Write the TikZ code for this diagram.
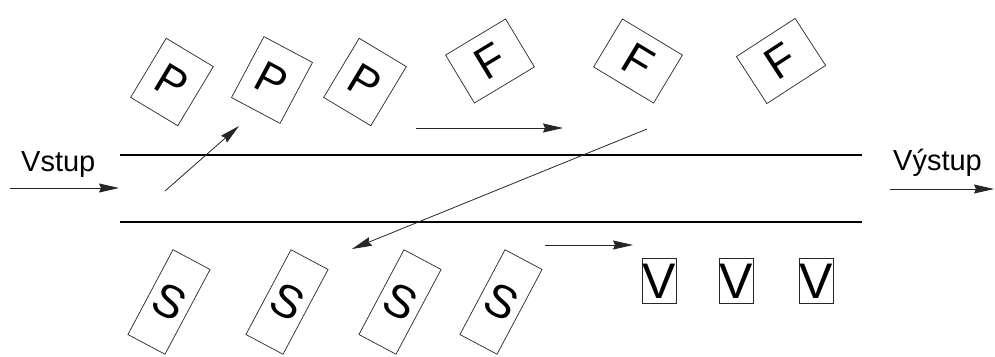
\documentclass[tikz,border=0pt]{standalone}
\usepackage{fontspec}
\setmainfont{Liberation Sans}
\usetikzlibrary{arrows.meta}

\tikzset{
  channel/.style={line width=2.8pt, black},
  flow/.style={line width=0.8pt, draw=black!85,
    -{Stealth[length=20pt, width=9pt, inset=2pt]}},
  labeltext/.style={font=\fontsize{29}{29}\selectfont, inner sep=0pt, anchor=base west},
  card/.style={draw=black!85, line width=0.7pt, inner sep=0pt, fill=white},
  pbox/.style={card, minimum width=55pt, minimum height=69pt,
    font=\fontsize{44}{44}\selectfont},
  fbox/.style={card, minimum width=70pt, minimum height=56pt,
    font=\fontsize{45}{45}\selectfont},
  sbox/.style={card, minimum width=42pt, minimum height=96pt,
    font=\fontsize{46}{46}\selectfont},
  vbox/.style={card, minimum width=34pt, minimum height=45pt,
    font=\fontsize{50}{50}\selectfont}
}

\begin{document}
\begin{tikzpicture}[x=1pt, y=-1pt]
  \useasboundingbox (0,0) rectangle (995,356);

  % channel walls
  \coordinate (ta) at (120,155);
  \coordinate (tb) at (862,155);
  \coordinate (ba) at (120,222);
  \coordinate (bb) at (862,222);
  \draw[channel] (ta) -- (tb);
  \draw[channel] (ba) -- (bb);

  % inlet and outlet
  \node[labeltext] (vstup) at (21,171) {Vstup};
  \node[labeltext] (vystup) at (893,170) {Výstup};
  \coordinate (ina) at (10,188);
  \coordinate (inb) at (119,188);
  \coordinate (outa) at (890,189);
  \coordinate (outb) at (994,189);
  \draw[flow] (ina) -- (inb);
  \draw[flow] (outa) -- (outb);

  % upper row: P and F cards
  \node[pbox, rotate=-31] (p1) at (172,82) {P};
  \node[pbox, rotate=-28] (p2) at (272,80) {P};
  \node[pbox, rotate=-31] (p3) at (365,82) {P};
  \node[fbox, rotate=31]  (f1) at (490,61) {F};
  \node[fbox, rotate=-31] (f2) at (638,61) {F};
  \node[fbox, rotate=33]  (f3) at (781,61) {F};

  % lower row: S cards and V cards
  \node[sbox, rotate=-28] (s1) at (169,302) {S};
  \node[sbox, rotate=-28] (s2) at (287,302) {S};
  \node[sbox, rotate=-28] (s3) at (400,302) {S};
  \node[sbox, rotate=-28] (s4) at (501,302) {S};
  \node[vbox] (v1) at (659,281) {V};
  \node[vbox] (v2) at (736,281) {V};
  \node[vbox] (v3) at (816,281) {V};

  % movement arrows
  \coordinate (ua) at (165,191);
  \coordinate (ub) at (239,126);
  \coordinate (ha) at (416,128);
  \coordinate (hb) at (563,128);
  \coordinate (da) at (647,129);
  \coordinate (db) at (352,249);
  \coordinate (la) at (545,245);
  \coordinate (lb) at (633,245);
  \draw[flow] (ua) -- (ub);
  \draw[flow] (ha) -- (hb);
  \draw[flow] (da) -- (db);
  \draw[flow] (la) -- (lb);
\end{tikzpicture}
\end{document}
